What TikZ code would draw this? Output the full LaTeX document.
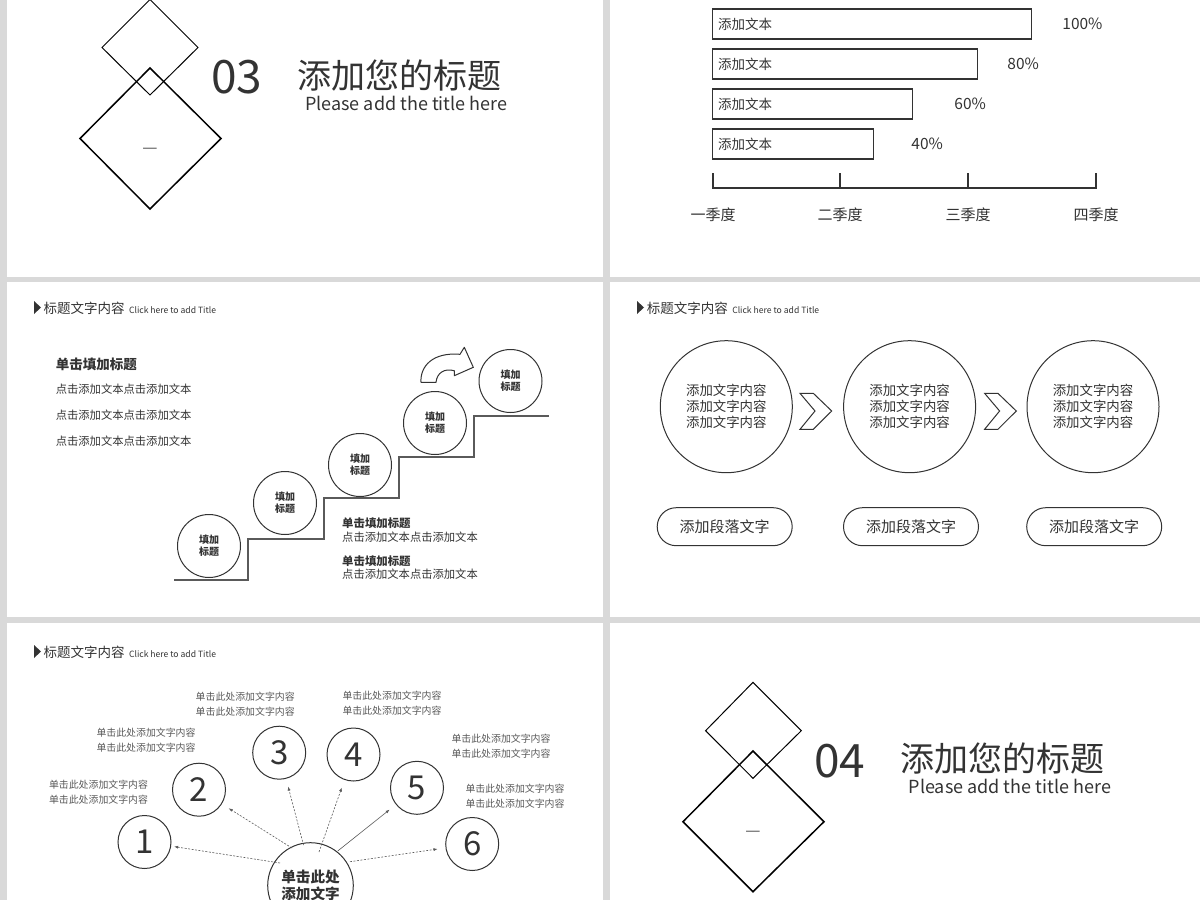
\documentclass[tikz,border=0pt]{standalone}
\usepackage{fontspec}
\setmainfont{Noto Sans CJK SC}
\usetikzlibrary{arrows.meta,positioning}
\definecolor{gapgray}{RGB}{217,217,217}
\definecolor{ink}{RGB}{51,51,51}
\definecolor{soft}{RGB}{90,90,90}
\newcommand{\fsz}[2]{\fontsize{#1}{#2}\selectfont}

\begin{document}
\begin{tikzpicture}[x=1pt,y=-1pt,
	every node/.style={inner sep=0pt,text=ink},
	ring/.style={circle,draw=ink,line width=1pt,minimum size=63pt,font=\fsz{10}{12}\bfseries,align=center},
	bigring/.style={circle,draw=ink,line width=1pt,minimum size=132pt,font=\fsz{13.4}{16},align=center},
	numring/.style={circle,draw=ink,line width=1pt,minimum size=53pt,font=\fsz{33}{33}},
	pill/.style={draw=ink,line width=1pt,rounded corners=19pt,minimum width=135pt,minimum height=38pt,font=\fsz{15}{15}},
	bar/.style={draw=ink,line width=1.2pt,minimum height=30pt,anchor=west},
	tip/.style={draw=soft,dash pattern=on 2pt off 1.5pt,line width=0.6pt,-{Latex[length=4pt,width=3pt]},shorten >=8pt},
	note/.style={font=\fsz{9.9}{14.6},text=soft,align=center},
	head/.style={font=\fsz{13.5}{13.5},anchor=west},
	hint/.style={font=\fsz{8.6}{8.6},anchor=base west},
	body/.style={font=\fsz{11.3}{11.3},anchor=west}]
	
	% Panels
	\useasboundingbox (0,0) rectangle (1200,900);
	\clip (0,0) rectangle (1200,900);
	\fill[gapgray] (0,0) rectangle (1200,900);
	\fill[white] (7,0) rectangle (603,277);
	\fill[white] (610,0) rectangle (1200,277);
	\fill[white] (7,282) rectangle (603,617);
	\fill[white] (610,282) rectangle (1200,617);
	\fill[white] (7,623) rectangle (603,900);
	\fill[white] (610,623) rectangle (1200,900);
	
	% Section 03
	\draw[line width=1pt] (150,-0.5) -- (198,47.5) -- (150,95) -- (102,47.5) -- cycle;
	\draw[line width=1.5pt] (150,68) -- (221,138.5) -- (150,209) -- (80,138.5) -- cycle;
	\node[text=soft,font=\fsz{17}{17}] (d3) at (150,151) {—};
	\node[font=\fsz{46}{46},anchor=west] (n03) at (211,77.5) {03};
	\node[font=\fsz{34}{34},anchor=west] (t03) at (297,76) {添加您的标题};
	\node[font=\fsz{18}{18},anchor=base west] (s03) at (305,110) {Please add the title here};
	
	% Bars
	\node[bar,minimum width=319pt] (b1) at (712,24) {};
	\node[bar,minimum width=265pt] (b2) at (712,64) {};
	\node[bar,minimum width=200pt] (b3) at (712,104) {};
	\node[bar,minimum width=161pt] (b4) at (712,144) {};
	\node[font=\fsz{13.5}{13.5},anchor=west] (l1) at (718,24) {添加文本};
	\node[font=\fsz{13.5}{13.5},anchor=west] (l2) at (718,64) {添加文本};
	\node[font=\fsz{13.5}{13.5},anchor=west] (l3) at (718,104) {添加文本};
	\node[font=\fsz{13.5}{13.5},anchor=west] (l4) at (718,144) {添加文本};
	\node[font=\fsz{15.5}{15.5},right=30pt of b1] (p1) {100\%};
	\node[font=\fsz{15.5}{15.5},right=29pt of b2] (p2) {80\%};
	\node[font=\fsz{15.5}{15.5},right=41pt of b3] (p3) {60\%};
	\node[font=\fsz{15.5}{15.5},right=37pt of b4] (p4) {40\%};
	\draw[ink,line width=1.2pt] (713,173) -- (713,188) -- (1096,188) -- (1096,173);
	\draw[ink,line width=1.2pt] (840,173) -- (840,188);
	\draw[ink,line width=1.2pt] (968,173) -- (968,188);
	\node[font=\fsz{15}{15}] (q1) at (713,215) {一季度};
	\node[font=\fsz{15}{15}] (q2) at (840,215) {二季度};
	\node[font=\fsz{15}{15}] (q3) at (968,215) {三季度};
	\node[font=\fsz{15}{15}] (q4) at (1096,215) {四季度};
	
	% Stairs
	\fill[ink] (34,301) -- (41,307.5) -- (34,314) -- cycle;
	\node[head] (h1) at (43.5,308) {标题文字内容};
	\node[hint] (k1) at ([xshift=4pt]h1.base east) {Click here to add Title};
	\node[font=\fsz{13.5}{13.5}\bfseries,anchor=west] (m1) at (55.6,364) {单击填加标题};
	\node[body] (e1) at (55.6,389) {点击添加文本点击添加文本};
	\node[body] (e2) at (55.6,415) {点击添加文本点击添加文本};
	\node[body] (e3) at (55.6,441) {点击添加文本点击添加文本};
	\draw[soft,line width=1.5pt] (174,580) -- (248,580) -- (248,539) -- (324,539) -- (324,498)
		-- (399,498) -- (399,457) -- (474,457) -- (474,416) -- (549,416);
	\node[ring] (s1) at (209,546) {填加\\标题};
	\node[ring] (s2) at (285,503) {填加\\标题};
	\node[ring] (s3) at (360,465) {填加\\标题};
	\node[ring] (s4) at (435,423) {填加\\标题};
	\node[ring] (s5) at (510.5,381) {填加\\标题};
	\draw[ink,line width=1pt,line join=round] (421,382.3) .. controls (420,366) and (433,352) .. (460,354.3)
		-- (464.3,347.3) -- (473.3,367.3) -- (454.3,375.7) -- (454.3,370.7)
		.. controls (444,368) and (437,373) .. (436,382.3) -- cycle;
	\node[font=\fsz{11.4}{11.4}\bfseries,anchor=west] (m2) at (342,523) {单击填加标题};
	\node[body] (e4) at (342,537) {点击添加文本点击添加文本};
	\node[font=\fsz{11.4}{11.4}\bfseries,anchor=west] (m3) at (342,561) {单击填加标题};
	\node[body] (e5) at (342,574) {点击添加文本点击添加文本};
	
	% Process
	\fill[ink] (637,301) -- (644,307.5) -- (637,314) -- cycle;
	\node[head] (h2) at (646.7,308) {标题文字内容};
	\node[hint] (k2) at ([xshift=4pt]h2.base east) {Click here to add Title};
	\node[bigring] (r1) at (726.3,406.7) {添加文字内容\\添加文字内容\\添加文字内容};
	\node[bigring] (r2) at (909.6,406.7) {添加文字内容\\添加文字内容\\添加文字内容};
	\node[bigring] (r3) at (1093,406.7) {添加文字内容\\添加文字内容\\添加文字内容};
	\draw[ink,line width=1pt] (800,393.3) -- (813.3,393.3) -- (831.7,411) -- (813.3,429.3) -- (800,429.3) -- (815,411) -- cycle;
	\draw[ink,line width=1pt] (984.6,393.3) -- (997.9,393.3) -- (1016.3,411) -- (997.9,429.3) -- (984.6,429.3) -- (999.6,411) -- cycle;
	\node[pill] (g1) at (724.7,526.7) {添加段落文字};
	\node[pill] (g2) at (911,526.7) {添加段落文字};
	\node[pill] (g3) at (1094.2,526.7) {添加段落文字};
	
	% Fan
	\fill[ink] (34,645) -- (41,651.5) -- (34,658) -- cycle;
	\node[head] (h3) at (43.5,652) {标题文字内容};
	\node[hint] (k3) at ([xshift=4pt]h3.base east) {Click here to add Title};
	\node[circle,draw=ink,line width=1pt,minimum size=85.6pt,font=\fsz{14.6}{17}\bfseries,align=center] (c0) at (310.5,885.5) {单击此处\\添加文字};
	\node[numring] (n1) at (144.5,842) {1};
	\node[numring] (n2) at (199,789.7) {2};
	\node[numring] (n3) at (279.2,752.7) {3};
	\node[numring] (n4) at (353.5,754.5) {4};
	\node[numring] (n5) at (417,787.8) {5};
	\node[numring] (n6) at (472.2,844) {6};
	\node[note] (o1) at (98.5,792.5) {单击此处添加文字内容\\单击此处添加文字内容};
	\node[note] (o2) at (146,740) {单击此处添加文字内容\\单击此处添加文字内容};
	\node[note] (o3) at (245.2,704) {单击此处添加文字内容\\单击此处添加文字内容};
	\node[note] (o4) at (392,703) {单击此处添加文字内容\\单击此处添加文字内容};
	\node[note] (o5) at (501,746) {单击此处添加文字内容\\单击此处添加文字内容};
	\node[note] (o6) at (515,796.4) {单击此处添加文字内容\\单击此处添加文字内容};
	\coordinate (a1) at (280,863);
	\coordinate (a2) at (292,848);
	\coordinate (a3) at (303.5,845);
	\coordinate (a4) at (319,852);
	\coordinate (a5) at (337.7,851);
	\coordinate (a6) at (350,861.7);
	\draw[tip,shorten >=3pt] (a1) -- (n1);
	\draw[tip] (a2) -- (n2);
	\draw[tip] (a3) -- (n3);
	\draw[tip] (a4) -- (n4);
	\draw[tip,solid] (a5) -- (n5);
	\draw[tip] (a6) -- (n6);
	
	% Section 04
	\draw[line width=1pt] (753,682.3) -- (801.3,730.7) -- (753,778.3) -- (705.6,730.7) -- cycle;
	\draw[line width=1.5pt] (753,751) -- (824,821.7) -- (753,891.7) -- (683,821.7) -- cycle;
	\node[text=soft,font=\fsz{17}{17}] (d4) at (753,834) {—};
	\node[font=\fsz{46}{46},anchor=west] (n04) at (814,761) {04};
	\node[font=\fsz{34}{34},anchor=west] (t04) at (900.4,758.5) {添加您的标题};
	\node[font=\fsz{18}{18},anchor=base west] (s04) at (908.5,793) {Please add the title here};
	
\end{tikzpicture}
\end{document}
